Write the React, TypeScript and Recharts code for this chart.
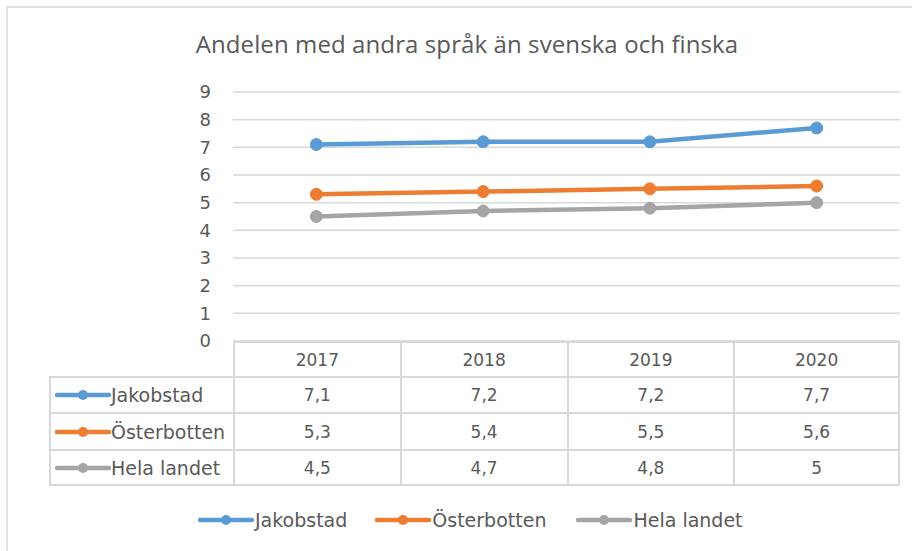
import { LineChart, Line, XAxis, YAxis, CartesianGrid } from 'recharts';

const YEARS = ['2017', '2018', '2019', '2020'];
const JAKOBSTAD = [7.1, 7.2, 7.2, 7.7];
const OSTERBOTTEN = [5.3, 5.4, 5.5, 5.6];
const HELA_LANDET = [4.5, 4.7, 4.8, 5];
const Y_TICKS = [0, 1, 2, 3, 4, 5, 6, 7, 8, 9];

const SERIES = [
  { key: 'Jakobstad', values: JAKOBSTAD, color: '#5B9BD5' },
  { key: 'Österbotten', values: OSTERBOTTEN, color: '#ED7D31' },
  { key: 'Hela landet', values: HELA_LANDET, color: '#A5A5A5' },
];

const data = YEARS.map((year, i) => {
  const row: Record<string, string | number> = { year };
  SERIES.forEach((s) => {
    row[s.key] = s.values[i];
  });
  return row;
});

const TEXT = '#595959';
const GRID = '#D9D9D9';
const FONT = '"DejaVu Sans", sans-serif';

// plot area, matches Excel layout
const PLOT_LEFT = 233;
const PLOT_RIGHT = 900;
const PLOT_TOP = 92;
const PLOT_BOTTOM = 341;
const COL_W = (PLOT_RIGHT - PLOT_LEFT) / YEARS.length;
const ROW_H = [35, 36, 37, 37];

const fmt = (n: number) => n.toString().replace('.', ',');

function LegendKey({ color, width = 52 }: { color: string; width?: number }) {
  return (
    <svg width={width} height={14} style={{ display: 'block' }}>
      <line x1={2} y1={7} x2={width - 2} y2={7} stroke={color} strokeWidth={4.5} strokeLinecap="round" />
      <circle cx={width / 2} cy={7} r={5} fill={color} />
    </svg>
  );
}

function DataTable() {
  const cell = {
    position: 'absolute' as const,
    boxSizing: 'border-box' as const,
    display: 'flex',
    alignItems: 'center',
    justifyContent: 'center',
    color: TEXT,
    fontSize: 17,
    fontFamily: FONT,
  };
  const rowTops = [PLOT_BOTTOM];
  ROW_H.forEach((h, i) => rowTops.push(rowTops[i] + h));
  const labelLeft = 49;
  return (
    <>
      {/* header row */}
      {YEARS.map((y, i) => (
        <div
          key={y}
          style={{
            ...cell,
            left: PLOT_LEFT + i * COL_W,
            top: rowTops[0],
            width: COL_W,
            height: ROW_H[0],
            borderLeft: `2px solid ${GRID}`,
            borderRight: i === YEARS.length - 1 ? `2px solid ${GRID}` : undefined,
            borderTop: `2px solid ${GRID}`,
          }}
        >
          {y}
        </div>
      ))}
      {SERIES.map((s, r) => (
        <div key={s.key}>
          <div
            style={{
              ...cell,
              justifyContent: 'flex-start',
              left: labelLeft,
              top: rowTops[r + 1],
              width: PLOT_LEFT - labelLeft,
              height: ROW_H[r + 1],
              borderTop: `2px solid ${GRID}`,
              borderLeft: `2px solid ${GRID}`,
              borderBottom: r === SERIES.length - 1 ? `2px solid ${GRID}` : undefined,
              paddingLeft: 4,
              fontSize: 19,
            }}
          >
            <LegendKey color={s.color} width={56} />
            <span style={{ marginLeft: 0 }}>{s.key}</span>
          </div>
          {s.values.map((v, i) => (
            <div
              key={i}
              style={{
                ...cell,
                left: PLOT_LEFT + i * COL_W,
                top: rowTops[r + 1],
                width: COL_W,
                height: ROW_H[r + 1],
                borderTop: `2px solid ${GRID}`,
                borderLeft: `2px solid ${GRID}`,
                borderRight: i === YEARS.length - 1 ? `2px solid ${GRID}` : undefined,
                borderBottom: r === SERIES.length - 1 ? `2px solid ${GRID}` : undefined,
              }}
            >
              {fmt(v)}
            </div>
          ))}
        </div>
      ))}
    </>
  );
}

export default function App() {
  return (
    <div
      style={{
        position: 'absolute',
        left: 0,
        top: 0,
        width: 912,
        height: 551,
        background: '#fff',
        fontFamily: FONT,
      }}
    >
      {/* chart frame, only top and left edges show in the crop */}
      <div
        style={{
          position: 'absolute',
          left: 6,
          top: 6,
          width: 906,
          height: 545,
          borderTop: '2px solid #E2E2E2',
          borderLeft: '2px solid #E2E2E2',
          boxSizing: 'border-box',
        }}
      />
      <div
        style={{
          position: 'absolute',
          left: 0,
          top: 27,
          width: 934,
          textAlign: 'center',
          fontSize: 24,
          color: TEXT,
          fontFamily: '"Open Sans", sans-serif',
          letterSpacing: 0.1,
        }}
      >
        Andelen med andra språk än svenska och finska
      </div>
      <div style={{ position: 'absolute', left: 0, top: 0 }}>
        <LineChart
          width={912}
          height={551}
          data={data}
          margin={{ top: PLOT_TOP, right: 912 - PLOT_RIGHT, bottom: 551 - PLOT_BOTTOM, left: PLOT_LEFT - 40 }}
        >
          <CartesianGrid vertical={false} stroke={GRID} strokeWidth={1.5} />
          <XAxis
            dataKey="year"
            hide
            padding={{ left: COL_W / 2, right: COL_W / 2 }}
          />
          <YAxis
            width={40}
            domain={[0, 9]}
            ticks={Y_TICKS}
            interval={0}
            axisLine={false}
            tickLine={false}
            tickMargin={16}
            tick={{ fill: TEXT, fontSize: 18, fontFamily: FONT }}
          />
          {SERIES.map((s) => (
            <Line
              key={s.key}
              dataKey={s.key}
              stroke={s.color}
              strokeWidth={4.5}
              dot={{ r: 6, fill: s.color, stroke: s.color, strokeWidth: 1 }}
              isAnimationActive={false}
            />
          ))}
        </LineChart>
      </div>
      <DataTable />
      {/* legend */}
      <div style={{ position: 'absolute', left: 198, top: 509, display: 'flex', alignItems: 'center', color: TEXT, fontSize: 19 }}>
        {SERIES.map((s, i) => (
          <div key={s.key} style={{ display: 'flex', alignItems: 'center', marginRight: i === 0 ? 28 : 30 }}>
            <LegendKey color={s.color} width={56} />
            <span style={{ marginLeft: 1 }}>{s.key}</span>
          </div>
        ))}
      </div>
    </div>
  );
}
